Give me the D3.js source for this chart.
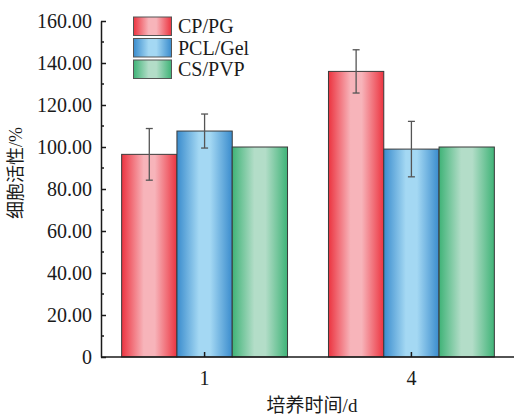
<!DOCTYPE html>
<html>
<head>
<meta charset="utf-8">
<script src="https://cdn.jsdelivr.net/npm/d3@7"></script>
<style>
  html, body { margin: 0; padding: 0; background: #fff; }
  svg { display: block; }
  text { font-family: "Liberation Serif", "Noto Sans CJK SC", serif; fill: #1a1a1a; }
</style>
</head>
<body>
<svg id="chart" width="514" height="415"></svg>
<script>
const categories = ["1", "4"];
const seriesNames = ["CP/PG", "PCL/Gel", "CS/PVP"];
const values = [
  [96.5, 136.0],   // CP/PG
  [107.6, 99.0],   // PCL/Gel
  [100.0, 100.0]   // CS/PVP
];
const errors = [
  [12.3, 10.3],
  [8.1, 13.2],
  [0, 0]
];
const yTicks = [0, 20, 40, 60, 80, 100, 120, 140, 160];
const yMinorTicks = [10, 30, 50, 70, 90, 110, 130, 150];
const edgeColors = ["#ec3440", "#3a8ccd", "#3fb377"];
const lightColors = ["#f7b4ba", "#a4d8f3", "#b3ddc8"];

const svg = d3.select("#chart");
const mLeft = 101, mRight = 514, mTop = 21, mBottom = 357;

const y = d3.scaleLinear().domain([0, 160]).range([mBottom, mTop]);
const x0 = d3.scaleBand().domain(categories).range([mLeft + 1, mRight]).paddingInner(0.198).paddingOuter(0.095);
const x1 = d3.scaleBand().domain(seriesNames).range([0, x0.bandwidth()]);

// gradients
const defs = svg.append("defs");
seriesNames.forEach((s, i) => {
  const g = defs.append("linearGradient").attr("id", "grad" + i)
    .attr("x1", "0%").attr("x2", "100%").attr("y1", "0%").attr("y2", "0%");
  g.append("stop").attr("offset", "0%").attr("stop-color", edgeColors[i]);
  g.append("stop").attr("offset", "40%").attr("stop-color", lightColors[i]);
  g.append("stop").attr("offset", "60%").attr("stop-color", lightColors[i]);
  g.append("stop").attr("offset", "100%").attr("stop-color", edgeColors[i]);
});

// bars
const data = [];
seriesNames.forEach((s, i) => categories.forEach((c, j) => data.push({s, i, c, v: values[i][j], e: errors[i][j]})));

svg.append("g").selectAll("rect").data(data).join("rect")
  .attr("x", d => x0(d.c) + x1(d.s))
  .attr("y", d => y(d.v))
  .attr("width", x1.bandwidth())
  .attr("height", d => y(0) - y(d.v))
  .attr("fill", d => "url(#grad" + d.i + ")")
  .attr("stroke", "#3a3a3a")
  .attr("stroke-width", 1);

// error bars
const eg = svg.append("g").attr("stroke", "#555").attr("stroke-width", 1.3);
data.filter(d => d.e > 0).forEach(d => {
  const cx = x0(d.c) + x1(d.s) + x1.bandwidth() / 2;
  eg.append("line").attr("x1", cx).attr("x2", cx).attr("y1", y(d.v + d.e)).attr("y2", y(d.v - d.e));
  eg.append("line").attr("x1", cx - 3.5).attr("x2", cx + 3.5).attr("y1", y(d.v + d.e)).attr("y2", y(d.v + d.e));
  eg.append("line").attr("x1", cx - 3.5).attr("x2", cx + 3.5).attr("y1", y(d.v - d.e)).attr("y2", y(d.v - d.e));
});

// y axis
const yAxis = d3.axisLeft(y).tickValues(yTicks)
  .tickFormat(d => d === 0 ? "0" : d3.format(".2f")(d))
  .tickSizeInner(-5).tickSizeOuter(0).tickPadding(9);
const ya = svg.append("g").attr("transform", `translate(${mLeft},0)`).call(yAxis);
ya.select(".domain").attr("stroke", "#1a1a1a").attr("stroke-width", 1.5);
ya.selectAll(".tick line").attr("stroke", "#1a1a1a").attr("stroke-width", 1.5);
ya.selectAll(".tick text").attr("font-size", 20).attr("font-family", "Liberation Serif").attr("fill", "#1a1a1a");
ya.selectAll(".minor").data(yMinorTicks).join("line").attr("class", "minor")
  .attr("x1", 0).attr("x2", 3).attr("y1", d => y(d)).attr("y2", d => y(d))
  .attr("stroke", "#1a1a1a").attr("stroke-width", 1.5);

// x axis
const xAxis = d3.axisBottom(x0).tickSizeInner(-5).tickSizeOuter(0).tickPadding(14);
const xa = svg.append("g").attr("transform", `translate(0,${mBottom})`).call(xAxis);
xa.select(".domain").attr("d", `M${mLeft},0H${mRight}`).attr("stroke", "#1a1a1a").attr("stroke-width", 1.5);
xa.selectAll(".tick line").attr("stroke", "#1a1a1a").attr("stroke-width", 1.5);
xa.selectAll(".tick text").attr("font-size", 20).attr("font-family", "Liberation Serif").attr("fill", "#1a1a1a");

// axis titles
svg.append("text").attr("x", 312).attr("y", 412).attr("text-anchor", "middle")
  .attr("font-size", 19).text("培养时间/d");
svg.append("text").attr("transform", "translate(22,173) rotate(-90)").attr("text-anchor", "middle")
  .attr("font-size", 18).text("细胞活性/%");

// legend
const lg = svg.append("g");
seriesNames.forEach((s, i) => {
  const yy = 17 + i * 21.5;
  lg.append("rect").attr("x", 133.5).attr("y", yy).attr("width", 38).attr("height", 18.5)
    .attr("fill", "url(#grad" + i + ")").attr("stroke", "#555").attr("stroke-width", 1);
  lg.append("text").attr("x", 178).attr("y", yy + 16).attr("font-size", 20).text(s);
});
</script>
</body>
</html>
